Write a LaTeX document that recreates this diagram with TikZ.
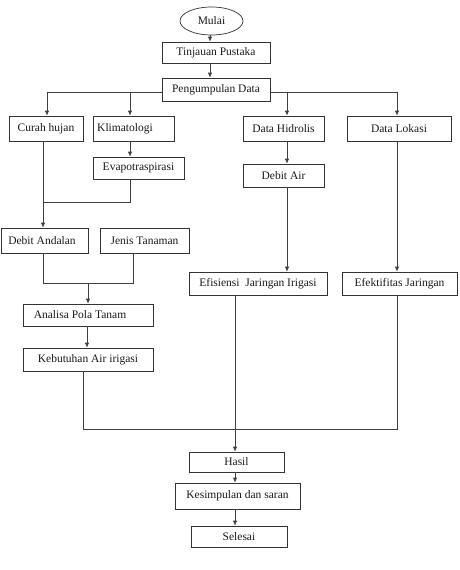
\documentclass[tikz,border=0pt]{standalone}
\usepackage{fontspec}
\setmainfont{Liberation Serif}
\usetikzlibrary{shapes.geometric,arrows.meta}
\begin{document}
\begin{tikzpicture}[x=1pt,y=-1pt,
  box/.style={draw=black!80,line width=0.7pt,rectangle,inner sep=0pt,font=\fontsize{11.5}{13}\selectfont,text=black!90},
  ln/.style={draw=black!75,line width=0.7pt},
  arr/.style={ln,-{Latex[length=5pt,width=4.5pt]}}]
\useasboundingbox (0,0) rectangle (460,570);
\node[box,ellipse,minimum width=63pt,minimum height=28pt] (mulai) at (211.5,21) {Mulai};
\node[box,minimum width=108pt,minimum height=21pt] (tinjauan) at (216,52.5) {Tinjauan Pustaka};
\node[box,minimum width=108pt,minimum height=23pt] (pengumpulan) at (216,89.5) {Pengumpulan Data};
\node[box,minimum width=74pt,minimum height=25pt] (curah) at (46,128.5) {Curah hujan};
\node[box,minimum width=81pt,minimum height=25pt] (klimat) at (133.5,128.5) {Klimatologi\hspace*{17pt}};
\node[box,minimum width=81pt,minimum height=25pt] (hidrolis) at (283.5,128.5) {Data Hidrolis};
\node[box,minimum width=104pt,minimum height=25pt] (lokasi) at (399,128.5) {Data Lokasi};
\node[box,minimum width=91pt,minimum height=22pt] (evapo) at (138.5,168) {Evapotraspirasi};
\node[box,minimum width=81pt,minimum height=23pt] (debitair) at (283.5,175.5) {Debit Air};
\node[box,minimum width=87pt,minimum height=25pt] (debitand) at (44.5,240.5) {Debit Andalan\hspace*{5pt}};
\node[box,minimum width=89pt,minimum height=25pt] (jenis) at (144.5,240.5) {Jenis Tanaman};
\node[box,minimum width=138pt,minimum height=23pt] (efisiensi) at (258,283.5) {Efisiensi\ \ Jaringan Irigasi};
\node[box,minimum width=115pt,minimum height=23pt] (efektif) at (399.5,283.5) {Efektifitas Jaringan};
\node[box,minimum width=130pt,minimum height=22pt] (analisa) at (88,315) {Analisa Pola Tanam\hspace*{16pt}};
\node[box,minimum width=130pt,minimum height=23pt] (kebutuhan) at (88,359.5) {Kebutuhan Air irigasi};
\node[box,minimum width=95pt,minimum height=20pt] (hasil) at (236.5,462) {Hasil};
\node[box,minimum width=125pt,minimum height=26pt] (kesimpulan) at (237.5,496) {Kesimpulan dan saran};
\node[box,minimum width=96pt,minimum height=21pt] (selesai) at (239,536.5) {Selesai};
% helper coordinates
\coordinate (hl) at ([yshift=-2.5pt]pengumpulan.west);
\coordinate (hr) at ([yshift=-2.5pt]pengumpulan.east);
\coordinate (cA) at ([xshift=1pt]curah.north);
\coordinate (kA) at ([xshift=-3.5pt]klimat.north);
\coordinate (hA) at ([xshift=3.5pt]hidrolis.north);
\coordinate (lA) at ([xshift=-2pt]lokasi.north);
\coordinate (cB) at ([xshift=-3pt]curah.south);
\coordinate (kB) at ([xshift=-3.5pt]klimat.south);
\coordinate (eB) at ([xshift=-8.5pt]evapo.south);
\coordinate (j1) at (43,202);
\coordinate (dB) at ([xshift=-1.5pt]debitand.south);
\coordinate (jB) at ([xshift=-11.5pt]jenis.south);
\coordinate (j2) at (43,283);
\coordinate (j3) at (88,283);
\coordinate (kbB) at ([xshift=-5pt]kebutuhan.south);
\coordinate (j4) at (83,429);
\coordinate (xB) at ([xshift=-23pt]efisiensi.south);
\coordinate (tB) at ([xshift=-2.5pt]efektif.south);
% connectors
\draw[arr] ([xshift=-1.5pt]mulai.south) -- ([xshift=-1.5pt]mulai.south |- tinjauan.north);
\draw[arr] ([xshift=-6pt]tinjauan.south) -- ([xshift=-6pt]tinjauan.south |- pengumpulan.north);
\draw[arr] (hl) -| (cA);
\draw[arr] (kA |- hl) -- (kA);
\draw[arr] (hr) -| (lA);
\draw[arr] (hA |- hr) -- (hA);
\draw[arr] (kB) -- (kB |- evapo.north);
\draw[arr] (cB) -- (cB |- debitand.north);
\draw[ln] (eB) |- (j1);
\draw[arr] (hA |- hidrolis.south) -- (hA |- debitair.north);
\draw[arr] (hA |- debitair.south) -- (hA |- efisiensi.north);
\draw[arr] (lA |- lokasi.south) -- (lA |- efektif.north);
\draw[ln] (dB) |- (jB |- j2) -- (jB);
\draw[arr] (j3) -- (j3 |- analisa.north);
\draw[arr] ([xshift=-1pt]analisa.south) -- ([xshift=-1pt]analisa.south |- kebutuhan.north);
\draw[ln] (kbB) |- (tB |- j4) -- (tB);
\draw[arr] (xB) -- (xB |- hasil.north);
\draw[arr] (xB |- hasil.south) -- (xB |- kesimpulan.north);
\draw[arr] (xB |- kesimpulan.south) -- (xB |- selesai.north);
\end{tikzpicture}
\end{document}
